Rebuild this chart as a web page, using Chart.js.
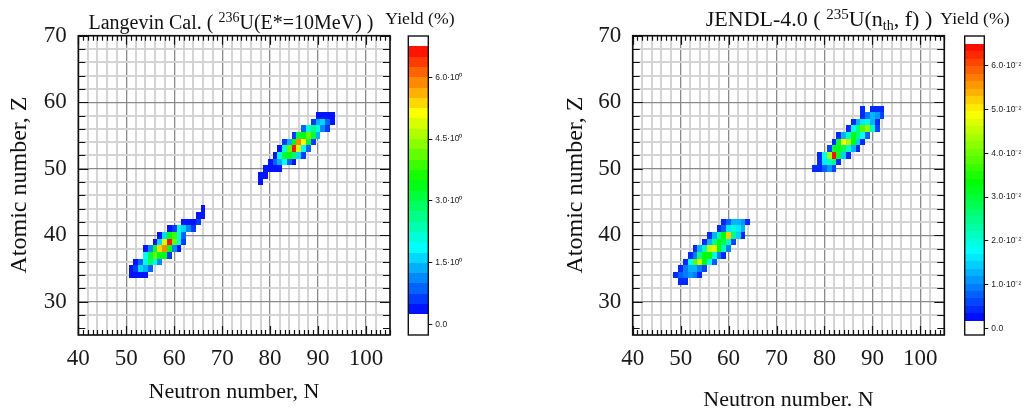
<!DOCTYPE html>
<html>
<head>
<meta charset="utf-8">
<script src="https://cdn.jsdelivr.net/npm/chart.js@4.4.1/dist/chart.umd.min.js"></script>
<style>
  html, body { margin: 0; padding: 0; background: #fff; }
  #stage { position: relative; width: 1024px; height: 409px; overflow: hidden; }
  canvas { position: absolute; top: 0; }
  .lbl {
    position: absolute; white-space: nowrap; text-align: center; color: #111;
    font-family: 'Liberation Serif', 'Times New Roman', serif;
  }
  .lbl .up { position: relative; line-height: 0; vertical-align: 0; }
  .ytitle { width: 300px; height: 24px; font-size: 24px; line-height: 24px; transform: rotate(-90deg); }
</style>
</head>
<body>
<div id="stage">
  <canvas id="mapL" width="400" height="409" style="left:0"></canvas>
  <canvas id="barL" width="112" height="409" style="left:400px"></canvas>
  <canvas id="mapR" width="405" height="409" style="left:550px"></canvas>
  <canvas id="barR" width="69" height="409" style="left:955px"></canvas>

  <div class="lbl" style="left:31px;width:400px;top:11.5px;font-size:20px;line-height:20px">Langevin Cal. ( <span class="up" style="font-size:14px;top:-7px">236</span>U(E*=10MeV) )</div>
  <div class="lbl" style="left:370px;width:100px;top:10.2px;font-size:17.7px;line-height:17.7px">Yield (%)</div>
  <div class="lbl" style="left:619px;width:400px;top:8.3px;font-size:22px;line-height:22px">JENDL-4.0 ( <span class="up" style="font-size:15px;top:-7px">235</span>U(n<span class="up" style="font-size:14px;top:4px">th</span>, f) )</div>
  <div class="lbl" style="left:925px;width:100px;top:10.2px;font-size:17.7px;line-height:17.7px">Yield (%)</div>

  <div class="lbl ytitle" style="left:-132px;top:173px">Atomic number, Z</div>
  <div class="lbl ytitle" style="left:423.5px;top:173px">Atomic number, Z</div>
  <div class="lbl" style="left:34px;width:400px;top:379.6px;font-size:22px;line-height:22px">Neutron number, N</div>
  <div class="lbl" style="left:588.5px;width:400px;top:387.6px;font-size:22px;line-height:22px">Neutron number. N</div>
</div>

<script>
/* ---- Axis ranges and tick labels ---- */
const N_MIN = 40, N_MAX = 105;
const Z_MIN = 25, Z_MAX = 70;
const N_LABELS = [40, 50, 60, 70, 80, 90, 100];
const Z_LABELS = [30, 40, 50, 60, 70];

/* ---- Yields (%), one row per Z: [Z, first N, yields for N, N+1, ...] ---- */
const LANGEVIN_LIGHT = [
  [34, 51, [0.35, 0.35, 0.35, 0.35]],
  [35, 51, [0.35, 0.6, 1.7, 1.3, 0.8]],
  [36, 52, [0.35, 0.8, 2.1, 2.8, 2.0, 1.0]],
  [37, 54, [1.9, 3.0, 4.0, 3.4, 3.3, 0.7]],
  [38, 54, [0.4, 1.2, 3.0, 5.3, 5.8, 3.3, 1.2, 0.4]],
  [39, 56, [0.4, 1.7, 4.9, 6.7, 4.2, 2.2, 0.5]],
  [40, 57, [0.4, 1.5, 3.3, 3.9, 2.1, 0.8]],
  [41, 59, [0.35, 0.7, 2.0, 1.7, 1.1, 0.5]],
  [42, 62, [0.4, 0.4, 0.4, 0.5]],
  [43, 65, [0.4, 0.4]],
  [44, 66, [0.35]],
];
const LANGEVIN_HEAVY = [
  [48, 78, [0.35]],
  [49, 78, [0.35, 0.35]],
  [50, 79, [0.4, 0.4, 0.4, 0.4]],
  [51, 80, [0.4, 0.8, 1.4, 1.9, 0.9, 0.4]],
  [52, 81, [0.4, 2.1, 3.1, 3.4, 2.8, 1.5, 0.5]],
  [53, 82, [0.4, 2.0, 4.1, 6.7, 4.9, 1.8, 0.8]],
  [54, 83, [0.5, 1.3, 3.4, 5.9, 5.2, 3.2, 0.5]],
  [55, 85, [0.5, 3.1, 3.3, 4.1, 3.2, 1.3]],
  [56, 87, [0.8, 2.1, 2.6, 2.2, 1.2, 0.5]],
  [57, 89, [0.7, 1.4, 1.7, 0.8, 0.4]],
  [58, 90, [0.35, 0.35, 0.35, 0.35]],
];
const JENDL_LIGHT = [
  [33, 50, [0.004, 0.004]],
  [34, 49, [0.004, 0.008, 0.010, 0.011, 0.009, 0.005]],
  [35, 50, [0.005, 0.010, 0.013, 0.012, 0.009, 0.006]],
  [36, 51, [0.004, 0.018, 0.038, 0.045, 0.034, 0.018, 0.007]],
  [37, 52, [0.004, 0.010, 0.024, 0.033, 0.033, 0.020, 0.009, 0.005]],
  [38, 53, [0.004, 0.012, 0.022, 0.046, 0.047, 0.034, 0.022, 0.010]],
  [39, 55, [0.004, 0.012, 0.024, 0.033, 0.028, 0.021, 0.006]],
  [40, 56, [0.005, 0.012, 0.023, 0.033, 0.052, 0.025, 0.014, 0.005]],
  [41, 58, [0.004, 0.008, 0.017, 0.019, 0.017, 0.012]],
  [42, 59, [0.004, 0.008, 0.012, 0.012, 0.011, 0.005]],
];
const JENDL_HEAVY = [
  [50, 78, [0.004, 0.005, 0.008, 0.011, 0.006]],
  [51, 79, [0.005, 0.017, 0.022, 0.025, 0.005]],
  [52, 79, [0.004, 0.018, 0.043, 0.065, 0.032, 0.014, 0.005]],
  [53, 81, [0.006, 0.030, 0.032, 0.029, 0.022, 0.012, 0.005]],
  [54, 82, [0.005, 0.030, 0.049, 0.044, 0.033, 0.014, 0.005]],
  [55, 83, [0.005, 0.013, 0.022, 0.031, 0.027, 0.018, 0.008]],
  [56, 85, [0.005, 0.018, 0.027, 0.038, 0.042, 0.022, 0.006]],
  [57, 86, [0.004, 0.012, 0.017, 0.019, 0.012, 0.005]],
  [58, 88, [0.005, 0.009, 0.012, 0.011, 0.006]],
  [59, 88, [0.004]],
  [59, 90, [0.004, 0.004, 0.004]],
];

/* ---- Colour scales: stepped rainbow, white below the first band ---- */
const LANGEVIN_SCALE = { lo: 0.25, hi: 6.75, bands: 26, min: -0.25, max: 7.0 };
const JENDL_SCALE = { lo: 0.00171, hi: 0.065, bands: 37, min: -0.0015, max: 0.0668 };
const LANGEVIN_BAR_TICKS = [0, 1.5, 3.0, 4.5, 6.0];
const JENDL_BAR_TICKS = [0, 0.01, 0.02, 0.03, 0.04, 0.05, 0.06];

const SERIF = "'Liberation Serif', 'Times New Roman', serif";
const SANS = "'Liberation Sans', Arial, sans-serif";

/* ---- Helpers ---- */

function bandColor(scale, i) {
  const hue = 240 * (1 - (i + 0.5) / scale.bands);
  return `hsl(${hue.toFixed(1)}, 100%, 50%)`;
}

function colorOf(scale, v) {
  const step = (scale.hi - scale.lo) / scale.bands;
  const i = Math.floor((v - scale.lo) / step + 1e-9);
  if (i < 0) return null;
  return bandColor(scale, Math.min(scale.bands - 1, i));
}

function rowsToPoints(rows) {
  const pts = [];
  rows.forEach(([z, n0, yields]) => {
    yields.forEach((v, k) => pts.push({ x: n0 + k, y: z, v }));
  });
  return pts;
}

/* Filled 1x1 bins, drawn over the grid through the chart scales. */
function cellLayer(scale) {
  return {
    id: 'cells',
    afterDatasetsDraw(chart) {
      const { ctx, scales: { x, y } } = chart;
      ctx.save();
      chart.data.datasets.forEach(ds => ds.data.forEach(p => {
        const c = colorOf(scale, p.v);
        if (!c) return;
        const x0 = Math.round(x.getPixelForValue(p.x - 0.5));
        const x1 = Math.round(x.getPixelForValue(p.x + 0.5));
        const y0 = Math.round(y.getPixelForValue(p.y + 0.5));
        const y1 = Math.round(y.getPixelForValue(p.y - 0.5));
        ctx.fillStyle = c;
        ctx.fillRect(x0, y0, x1 - x0, y1 - y0);
      }));
      ctx.restore();
    },
  };
}

/* Box frame with inward tick marks on all four sides. */
const frameLayer = {
  id: 'frame',
  afterDraw(chart) {
    const { ctx, chartArea: a, scales: { x, y } } = chart;
    ctx.save();
    ctx.strokeStyle = '#111';
    ctx.lineWidth = 1.2;
    ctx.beginPath();
    for (let n = Math.ceil(x.min); n <= x.max; n++) {
      const px = Math.round(x.getPixelForValue(n)) + 0.5;
      const len = n % 10 === 0 ? 9 : 5;
      ctx.moveTo(px, a.bottom); ctx.lineTo(px, a.bottom - len);
      ctx.moveTo(px, a.top); ctx.lineTo(px, a.top + len);
    }
    for (let z = Math.ceil(y.min); z <= y.max; z++) {
      if (z % 2) continue;
      const py = Math.round(y.getPixelForValue(z)) + 0.5;
      const len = z % 10 === 0 ? 10 : 7;
      ctx.moveTo(a.left, py); ctx.lineTo(a.left + len, py);
      ctx.moveTo(a.right, py); ctx.lineTo(a.right - len, py);
    }
    ctx.stroke();
    ctx.lineWidth = 1.6;
    ctx.strokeRect(a.left, a.top, a.right - a.left, a.bottom - a.top);
    ctx.restore();
  },
};

function gridColor(ctx) {
  return ctx.tick.value % 10 === 0 ? '#8a8a8a' : '#d4d4d4';
}
function gridWidth(ctx) {
  return ctx.tick.value % 10 === 0 ? 1.3 : 2;
}

function renderHeatmap(canvasId, rows, scale, yAxisWidth, padRight) {
  const ctx = document.getElementById(canvasId).getContext('2d');
  return new Chart(ctx, {
    type: 'scatter',
    data: { datasets: [{ data: rowsToPoints(rows), pointRadius: 0, showLine: false }] },
    options: {
      responsive: false,
      animation: false,
      events: [],
      layout: { padding: { left: 0, right: padRight, top: 35.7, bottom: 0 } },
      plugins: { legend: { display: false }, tooltip: { enabled: false } },
      scales: {
        x: {
          type: 'linear', min: N_MIN, max: N_MAX,
          afterFit: s => { s.height = 74; },
          grid: { color: gridColor, lineWidth: gridWidth, drawTicks: false },
          border: { display: false },
          ticks: {
            stepSize: 2, autoSkip: false, maxRotation: 0, padding: 10,
            color: '#1a1a1a', font: { family: SERIF, size: 23 },
            callback: v => (N_LABELS.includes(v) ? String(v) : ''),
          },
        },
        y: {
          type: 'linear', min: Z_MIN, max: Z_MAX,
          afterFit: s => { s.width = yAxisWidth; },
          grid: { color: gridColor, lineWidth: gridWidth, drawTicks: false },
          border: { display: false },
          ticks: {
            stepSize: 2, autoSkip: false, padding: 11.5,
            color: '#1a1a1a', font: { family: SERIF, size: 23 },
            callback: v => (Z_LABELS.includes(v) ? String(v) : ''),
          },
        },
      },
    },
    plugins: [cellLayer(scale), frameLayer],
  });
}

/* Stepped colour bar with its own value axis on the right. */
function renderColorbar(canvasId, scale, tickValues, fmt, padLeft, axisWidth) {
  const ctx = document.getElementById(canvasId).getContext('2d');
  const bandsLayer = {
    id: 'bands',
    afterDatasetsDraw(chart) {
      const { ctx, chartArea: a, scales: { y } } = chart;
      const step = (scale.hi - scale.lo) / scale.bands;
      ctx.save();
      for (let i = 0; i < scale.bands; i++) {
        const top = Math.round(y.getPixelForValue(scale.lo + (i + 1) * step));
        const bot = Math.round(y.getPixelForValue(scale.lo + i * step));
        ctx.fillStyle = bandColor(scale, i);
        ctx.fillRect(a.left, top, a.right - a.left, bot - top);
      }
      ctx.strokeStyle = '#111';
      ctx.lineWidth = 1.4;
      ctx.strokeRect(a.left, a.top, a.right - a.left, a.bottom - a.top);
      ctx.restore();
    },
  };
  return new Chart(ctx, {
    type: 'scatter',
    data: { datasets: [] },
    options: {
      responsive: false,
      animation: false,
      events: [],
      layout: { padding: { left: padLeft, right: 0, top: 36, bottom: 74 } },
      plugins: { legend: { display: false }, tooltip: { enabled: false } },
      scales: {
        x: { display: false, min: 0, max: 1 },
        y: {
          type: 'linear', position: 'right', min: scale.min, max: scale.max,
          afterFit: s => { s.width = axisWidth; },
          afterBuildTicks: s => { s.ticks = tickValues.map(value => ({ value })); },
          grid: { drawOnChartArea: false, drawTicks: true, tickLength: 4, tickColor: '#111', tickWidth: 1 },
          border: { display: false },
          ticks: {
            padding: 3, color: '#222', font: { family: SANS, size: 8.5 },
            callback: fmt,
          },
        },
      },
    },
    plugins: [bandsLayer],
  });
}

renderHeatmap('mapL', LANGEVIN_LIGHT.concat(LANGEVIN_HEAVY), LANGEVIN_SCALE, 78.3, 10);
renderHeatmap('mapR', JENDL_LIGHT.concat(JENDL_HEAVY), JENDL_SCALE, 82.7, 10.7);

renderColorbar('barL', LANGEVIN_SCALE, LANGEVIN_BAR_TICKS,
  v => (v === 0 ? '0.0' : `${v.toFixed(1)}·10⁰`), 8.3, 83.7);
renderColorbar('barR', JENDL_SCALE, JENDL_BAR_TICKS,
  v => (v === 0 ? '0.0' : `${(v * 100).toFixed(1)}·10⁻²`), 9.7, 39.7);
</script>
</body>
</html>
